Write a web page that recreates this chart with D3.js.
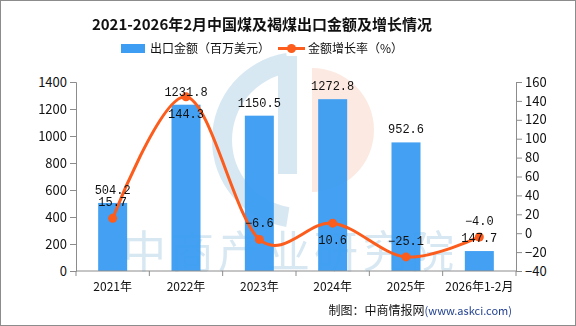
<!DOCTYPE html>
<html>
<head>
<meta charset="utf-8">
<script src="https://cdn.jsdelivr.net/npm/d3@7/dist/d3.min.js"></script>
<style>
  body { margin: 0; background: #fff; }
  svg { display: block; }
</style>
</head>
<body>
<div id="chart"></div>
<script>
// categories and series
var categories = ["2021年", "2022年", "2023年", "2024年", "2025年", "2026年1-2月"];
var amount = [504.2, 1231.8, 1150.5, 1272.8, 952.6, 147.7];
var growth = [15.7, 144.3, -6.6, 10.6, -25.1, -4.0];
var leftTicks = [0, 200, 400, 600, 800, 1000, 1200, 1400];
var rightTicks = [-40, -20, 0, 20, 40, 60, 80, 100, 120, 140, 160];
// growth label above (-1) or below (1) the point
var growthSide = [-1, 1, -1, 1, -1, -1];

var width = 576, height = 326;
var margin = {top: 82, right: 60, bottom: 55, left: 76};
var fontCJK = "'Noto Sans CJK SC', 'DejaVu Sans', sans-serif";
var fontNum = "'Liberation Mono', 'DejaVu Sans Mono', monospace";

var svg = d3.select("#chart").append("svg")
  .attr("width", width)
  .attr("height", height);

// frame
svg.append("rect")
  .attr("x", 0.5).attr("y", 0.5)
  .attr("width", width - 1).attr("height", height - 1)
  .attr("fill", "#fff").attr("stroke", "#8c8c8c");

var x = d3.scaleBand().domain(categories)
  .range([margin.left, width - margin.right]);
var yL = d3.scaleLinear().domain([0, 1400])
  .range([height - margin.bottom, margin.top]);
var yR = d3.scaleLinear().domain([-40, 160])
  .range([height - margin.bottom, margin.top]);

// watermark logo
var wm = svg.append("g").attr("opacity", 0.2);
wm.append("path")
  .attr("transform", "translate(300,140)")
  .attr("d", d3.arc().innerRadius(68).outerRadius(88)
    .startAngle(-Math.PI * 0.05).endAngle(-Math.PI * 0.95)())
  .attr("fill", "#3b8bc2");
wm.append("rect").attr("x", 278).attr("y", 56).attr("width", 19).attr("height", 118)
  .attr("fill", "#3b8bc2");
wm.append("path")
  .attr("transform", "translate(312,130)")
  .attr("d", d3.arc().innerRadius(0).outerRadius(62)
    .startAngle(0).endAngle(Math.PI)())
  .attr("fill", "#f0936a");
wm.append("text")
  .attr("x", 290).attr("y", 268)
  .attr("text-anchor", "middle")
  .attr("font-family", fontCJK)
  .attr("font-size", 44)
  .attr("letter-spacing", 4)
  .attr("fill", "#3b8bc2")
  .text("中商产业研究院");

// bars
var barW = 29;
svg.append("g").selectAll("rect").data(categories).enter().append("rect")
  .attr("x", function(d) { return x(d) + x.bandwidth() / 2 - barW / 2; })
  .attr("y", function(d, i) { return yL(amount[i]); })
  .attr("width", barW)
  .attr("height", function(d, i) { return yL(0) - yL(amount[i]); })
  .attr("fill", "#3d9df2")
  .attr("fill-opacity", 0.97);

// axes
function styleAxis(g) {
  g.selectAll("path, line").attr("stroke", "#8c8c8c");
  g.selectAll("text").attr("fill", "#111");
}
svg.append("g")
  .attr("transform", "translate(" + margin.left + ",0)")
  .call(d3.axisLeft(yL).tickValues(leftTicks).tickSize(6).tickSizeOuter(6).tickPadding(3)
    .tickFormat(d3.format("d")))
  .call(styleAxis)
  .selectAll("text").attr("font-family", fontCJK).attr("font-size", 13);

svg.append("g")
  .attr("transform", "translate(" + (width - margin.right) + ",0)")
  .call(d3.axisRight(yR).tickValues(rightTicks).tickSize(6).tickSizeOuter(6).tickPadding(3)
    .tickFormat(function(d) { return d < 0 ? "\u2212" + Math.abs(d) : d; }))
  .call(styleAxis)
  .selectAll("text").attr("font-family", fontCJK).attr("font-size", 13);

var xg = svg.append("g")
  .attr("transform", "translate(0," + yL(0) + ")");
xg.append("line")
  .attr("x1", margin.left).attr("x2", width - margin.right)
  .attr("stroke", "#8c8c8c");
xg.selectAll(".tk").data(d3.range(categories.length + 1)).enter().append("line")
  .attr("x1", function(i) { return margin.left + i * x.step(); })
  .attr("x2", function(i) { return margin.left + i * x.step(); })
  .attr("y1", 0).attr("y2", 5)
  .attr("stroke", "#8c8c8c");
xg.selectAll("text").data(categories).enter().append("text")
  .attr("x", function(d) { return x(d) + x.bandwidth() / 2; })
  .attr("y", 20)
  .attr("text-anchor", "middle")
  .attr("font-family", fontCJK)
  .attr("font-size", 12)
  .attr("fill", "#111")
  .text(function(d) { return d; });

// growth line
var cx = function(i) { return x(categories[i]) + x.bandwidth() / 2; };
var line = d3.line()
  .x(function(d, i) { return cx(i); })
  .y(function(d) { return yR(d); })
  .curve(d3.curveCardinal.tension(0));
svg.append("path")
  .datum(growth)
  .attr("d", line)
  .attr("fill", "none")
  .attr("stroke", "#fc5c1c")
  .attr("stroke-width", 3);
svg.append("g").selectAll("circle").data(growth).enter().append("circle")
  .attr("cx", function(d, i) { return cx(i); })
  .attr("cy", function(d) { return yR(d); })
  .attr("r", 4.5)
  .attr("fill", "#fc5c1c");

// value labels
function fmt(v) {
  var s = v.toFixed(1);
  return v < 0 ? "\u2212" + s.slice(1) : s;
}
svg.append("g").selectAll("text").data(amount).enter().append("text")
  .attr("x", function(d, i) { return cx(i); })
  .attr("y", function(d) { return yL(d) - 9; })
  .attr("text-anchor", "middle")
  .attr("font-family", fontNum)
  .attr("font-size", 12)
  .attr("fill", "#111")
  .text(fmt);
svg.append("g").selectAll("text").data(growth).enter().append("text")
  .attr("x", function(d, i) { return cx(i); })
  .attr("y", function(d, i) { return yR(d) + (growthSide[i] < 0 ? -12 : 21); })
  .attr("text-anchor", "middle")
  .attr("font-family", fontNum)
  .attr("font-size", 12)
  .attr("fill", "#111")
  .text(fmt);

// title
svg.append("text")
  .attr("x", 262).attr("y", 30)
  .attr("text-anchor", "middle")
  .attr("font-family", fontCJK)
  .attr("font-weight", "bold")
  .attr("font-size", 15)
  .attr("fill", "#111")
  .text("2021-2026年2月中国煤及褐煤出口金额及增长情况");

// legend
var lg = svg.append("g");
lg.append("rect").attr("x", 121).attr("y", 44).attr("width", 24).attr("height", 9)
  .attr("fill", "#3d9df2");
lg.append("text").attr("x", 150).attr("y", 53)
  .attr("font-family", fontCJK).attr("font-size", 12).attr("fill", "#111")
  .text("出口金额（百万美元）");
lg.append("line").attr("x1", 278).attr("x2", 305).attr("y1", 48.5).attr("y2", 48.5)
  .attr("stroke", "#fc5c1c").attr("stroke-width", 3);
lg.append("circle").attr("cx", 291.5).attr("cy", 48.5).attr("r", 4.5).attr("fill", "#fc5c1c");
lg.append("text").attr("x", 308).attr("y", 53)
  .attr("font-family", fontCJK).attr("font-size", 12).attr("fill", "#111")
  .text("金额增长率（%）");

// source
var src = svg.append("text")
  .attr("x", 512).attr("y", 315)
  .attr("text-anchor", "end")
  .attr("font-family", fontCJK)
  .attr("font-size", 12)
  .attr("fill", "#111");
src.append("tspan").text("制图：中商情报网");
src.append("tspan").attr("fill", "#1f3f8f").attr("font-size", 11).text("(www.askci.com)");
</script>
</body>
</html>
